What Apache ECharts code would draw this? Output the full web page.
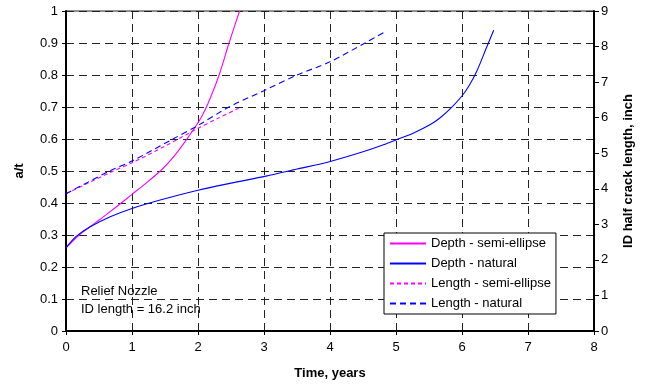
<!DOCTYPE html>
<html>
<head>
<meta charset="utf-8">
<title>Relief Nozzle crack growth</title>
<script src="https://cdn.jsdelivr.net/npm/echarts@6/dist/echarts.min.js"></script>
<style>
  html, body { margin: 0; padding: 0; background: #fff; }
  #chart { width: 646px; height: 388px; }
</style>
</head>
<body>
<div id="chart"></div>
<script>
// Crack depth (a/t, left axis) and ID half crack length (inch, right axis) versus time in years.
const depthSemiT = [0, 0.2, 0.36, 0.6, 0.9, 1.0, 1.2, 1.43, 1.6, 1.78, 1.95, 2.05, 2.15, 2.32, 2.47, 2.63];
const depthSemi  = [0.26, 0.30, 0.325, 0.362, 0.41, 0.427, 0.46, 0.50, 0.537, 0.585, 0.635, 0.668, 0.71, 0.80, 0.90, 1.0];

const depthNatT = [0, 0.15, 0.36, 0.67, 1.0, 1.44, 2.0, 2.5, 3.03, 3.5, 3.99, 4.5, 4.81, 5.0, 5.26, 5.52, 5.66, 5.82, 5.99, 6.1, 6.22, 6.37, 6.48];
const depthNat  = [0.26, 0.295, 0.325, 0.357, 0.383, 0.41, 0.44, 0.462, 0.484, 0.506, 0.529, 0.56, 0.582, 0.597, 0.618, 0.645, 0.665, 0.694, 0.732, 0.764, 0.81, 0.885, 0.94];

const lengthSemiT = [0, 0.66, 1.0, 1.5, 2.0, 2.3, 2.62];
const lengthSemi  = [3.86, 4.45, 4.73, 5.2, 5.70, 5.98, 6.27];

const lengthNatT = [0, 0.66, 1.0, 1.62, 2.0, 2.47, 3.0, 3.5, 4.0, 4.53, 4.86];
const lengthNat  = [3.86, 4.5, 4.78, 5.4, 5.78, 6.3, 6.76, 7.2, 7.57, 8.1, 8.44];

const seriesNames = ['Depth - semi-ellipse', 'Depth - natural', 'Length - semi-ellipse', 'Length - natural'];
const noteLines = ['Relief Nozzle', 'ID length = 16.2 inch'];

const FONT = '"Liberation Sans", Arial, Helvetica, sans-serif';
const MAGENTA = '#ff00ff';
const BLUE = '#0000ff';
const colors = [MAGENTA, BLUE, MAGENTA, BLUE];
const dashes = ['solid', 'solid', [4, 3], [6, 4]];

function pairs(xs, ys) {
  return xs.map((x, i) => [x, ys[i]]);
}

const gridDash = { color: '#222', width: 1, type: [8, 5] };

function lineSeries(i, axis, xs, ys) {
  return {
    name: seriesNames[i], type: 'line', yAxisIndex: axis,
    showSymbol: false, symbol: 'none',
    smooth: 0.3,
    data: pairs(xs, ys),
    lineStyle: { color: colors[i], width: 1.1, type: dashes[i] },
    itemStyle: { color: colors[i] }
  };
}

const chart = echarts.init(document.getElementById('chart'), null, { renderer: 'canvas' });

chart.setOption({
  animation: false,
  backgroundColor: '#fff',
  textStyle: { fontFamily: FONT },
  grid: {
    left: 66, right: 52, top: 11, bottom: 57,
    show: true, borderColor: '#222', borderWidth: 1, backgroundColor: 'transparent'
  },
  xAxis: {
    type: 'value', min: 0, max: 8, interval: 1,
    name: 'Time, years', nameLocation: 'middle', nameGap: 36,
    nameTextStyle: { fontFamily: FONT, fontSize: 13, fontWeight: 'bold', color: '#000' },
    axisLine: { lineStyle: { color: '#000', width: 2 } },
    axisTick: { show: true, length: 4, lineStyle: { color: '#000', width: 1 } },
    axisLabel: { fontFamily: FONT, fontSize: 13, color: '#000', margin: 10 },
    splitLine: { show: true, lineStyle: gridDash }
  },
  yAxis: [
    {
      type: 'value', min: 0, max: 1, interval: 0.1, position: 'left',
      name: 'a/t', nameLocation: 'middle', nameGap: 40, nameRotate: 90,
      nameTextStyle: { fontFamily: FONT, fontSize: 13, fontWeight: 'bold', color: '#000' },
      axisLine: { show: true, lineStyle: { color: '#000', width: 2 } },
      axisTick: { show: true, length: 4, lineStyle: { color: '#000', width: 1 } },
      axisLabel: {
        fontFamily: FONT, fontSize: 13, color: '#000', margin: 8,
        formatter: v => String(Number(v.toFixed(1)))
      },
      splitLine: { show: true, lineStyle: gridDash }
    },
    {
      type: 'value', min: 0, max: 9, interval: 1, position: 'right',
      name: 'ID half crack length, inch', nameLocation: 'middle', nameGap: 28, nameRotate: 90,
      nameTextStyle: { fontFamily: FONT, fontSize: 13, fontWeight: 'bold', color: '#000' },
      axisLine: { show: true, lineStyle: { color: '#000', width: 2 } },
      axisTick: { show: true, length: 5, lineStyle: { color: '#000', width: 1 } },
      axisLabel: { fontFamily: FONT, fontSize: 13, color: '#000', margin: 7 },
      splitLine: { show: false }
    }
  ],
  legend: {
    orient: 'vertical', left: 384, top: 233,
    data: seriesNames,
    itemWidth: 36, itemHeight: 14, itemGap: 7,
    padding: [4, 5, 4, 5],
    itemStyle: { opacity: 0 },
    backgroundColor: '#fff', borderColor: '#000', borderWidth: 1, borderRadius: 0,
    textStyle: { fontFamily: FONT, fontSize: 13, color: '#000' }
  },
  graphic: [
    {
      type: 'text', left: 81, top: 282, z: 10,
      style: { text: noteLines.join('\n'), font: '13px ' + FONT, fill: '#000', lineHeight: 18 }
    }
  ],
  series: [
    lineSeries(0, 0, depthSemiT, depthSemi),
    lineSeries(1, 0, depthNatT, depthNat),
    lineSeries(2, 1, lengthSemiT, lengthSemi),
    lineSeries(3, 1, lengthNatT, lengthNat)
  ]
});
</script>
</body>
</html>
